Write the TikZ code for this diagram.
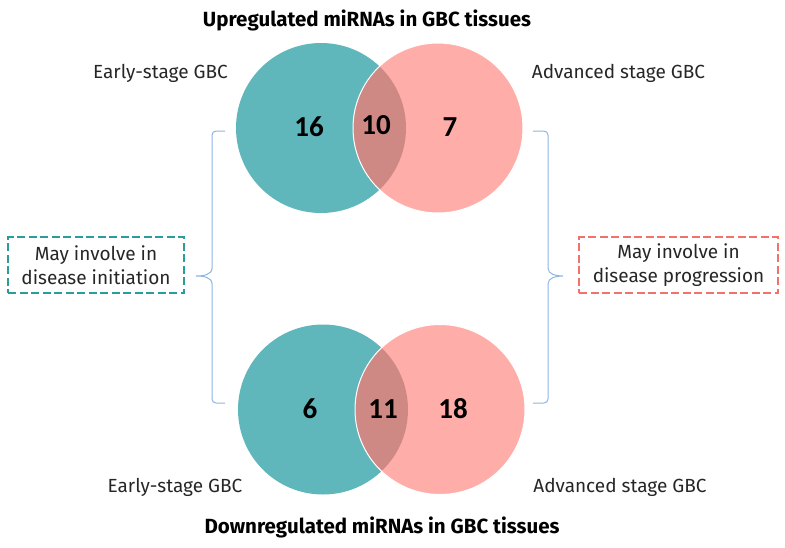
\documentclass[tikz,border=0pt]{standalone}
\usepackage{fontspec}
\setmainfont{Fira Sans}
\newfontfamily\numfont{Carlito}
\usepackage{tikz}
\usetikzlibrary{positioning,calc}
\definecolor{earlyfill}{RGB}{95,183,188}
\definecolor{advfill}{RGB}{255,173,168}
\definecolor{bothfill}{RGB}{207,137,133}
\definecolor{bracecol}{RGB}{143,180,227}
\definecolor{earlydash}{RGB}{42,157,154}
\definecolor{advdash}{RGB}{242,113,107}

\begin{document}
\begin{tikzpicture}[x=1pt,y=-1pt, every node/.style={font=\fontsize{19}{22}\selectfont,text=black!85},
num/.style={font=\numfont\bfseries\fontsize{29}{32}\selectfont,text=black},
heading/.style={font=\bfseries\fontsize{20.5}{24}\selectfont,text=black},
note/.style={rectangle,dashed,dash pattern=on 8pt off 3.5pt,line width=1.3pt,align=center,minimum height=56pt,inner sep=0pt,font=\fontsize{19}{24}\selectfont}]
\useasboundingbox (0,0) rectangle (785,547);
% upper venn
\coordinate (ue) at (321,128);
\coordinate (ua) at (438,128);
\fill[earlyfill] (ue) circle[radius=85pt];
\fill[advfill] (ua) circle[radius=85pt];
\begin{scope}
\clip (ue) circle[radius=85pt];
\fill[bothfill] (ua) circle[radius=85pt];
\end{scope}
\draw[white,line width=1pt] (ua) circle[radius=85pt];
% lower venn
\coordinate (le) at (323,409.5);
\coordinate (la) at (440,409.5);
\fill[earlyfill] (le) circle[radius=85pt];
\fill[advfill] (la) circle[radius=85pt];
\begin{scope}
\clip (le) circle[radius=85pt];
\fill[bothfill] (la) circle[radius=85pt];
\end{scope}
\draw[white,line width=1pt] (la) circle[radius=85pt];
% counts
\node[num] (u16) at (309,127) {16};
\node[num] (u10) at (376,125) {10};
\node[num] (u7) at (450,127) {7};
\node[num] (l6) at (310,409) {6};
\node[num] (l11) at (383,409) {11};
\node[num] (l18) at (453,409) {18};
% labels
\node[heading] (uptitle) at (367,20) {Upregulated miRNAs in GBC tissues};
\node[heading] (downtitle) at (382,527) {Downregulated miRNAs in GBC tissues};
\node (uearly) at (160.5,73) {Early-stage GBC};
\node (uadv) at (618.5,73) {Advanced stage GBC};
\node (learly) at (175,487) {Early-stage GBC};
\node (ladv) at (620,487) {Advanced stage GBC};
\node[note,draw=earlydash,minimum width=176pt] (init) at (96,265) {May involve in\\disease initiation};
\node[note,draw=advdash,minimum width=199pt] (prog) at (678.5,265) {May involve in\\disease progression};
% braces
\coordinate (lbtop) at (225,131);
\coordinate (lbtip) at (196,276);
\coordinate (lbbot) at (225,403);
\draw[bracecol,line width=1pt] (lbtop) -- (216,131) to[out=180,in=90] (212,135) -- (212,268)
  to[out=-90,in=0] (lbtip) to[out=0,in=90] (212,284) -- (212,399) to[out=-90,in=180] (216,403) -- (lbbot);
\coordinate (rbtop) at (533,131);
\coordinate (rbtip) at (563,276);
\coordinate (rbbot) at (533,403);
\draw[bracecol,line width=1pt] (rbtop) -- (544,131) to[out=0,in=90] (548,135) -- (548,268)
  to[out=-90,in=180] (rbtip) to[out=180,in=90] (548,284) -- (548,399) to[out=-90,in=0] (544,403) -- (rbbot);
\end{tikzpicture}
\end{document}
